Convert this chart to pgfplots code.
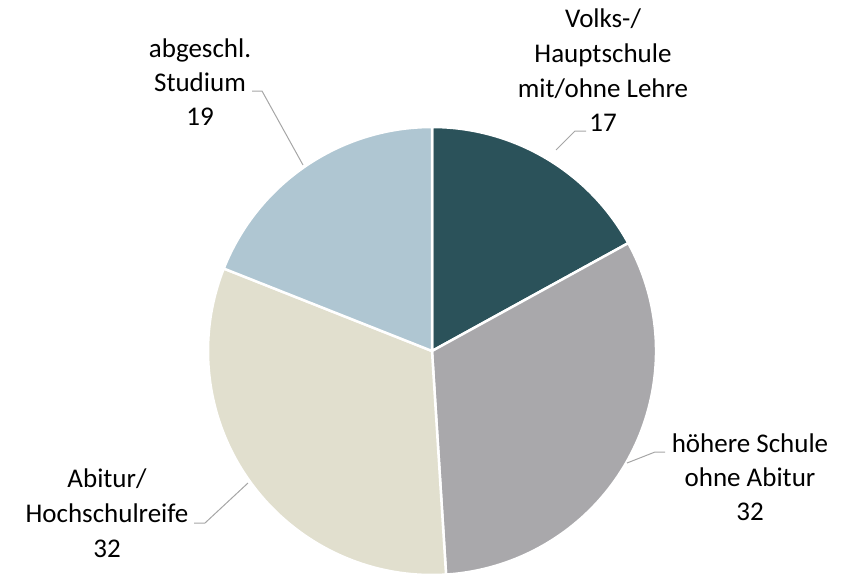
\documentclass[border=0pt]{standalone}
\usepackage{pgfplots}
\pgfplotsset{compat=1.18}
\usepackage{pgfplotstable}
\usepackage{fontspec}
\setmainfont{Carlito}

\definecolor{pie0}{HTML}{2B525A}
\definecolor{pie1}{HTML}{A9A8AB}
\definecolor{pie2}{HTML}{E1DFCE}
\definecolor{pie3}{HTML}{AFC6D2}
\definecolor{leader}{HTML}{A6A6A6}

\tikzset{lbl/.style={font=\fontsize{27}{34}\selectfont, anchor=base, inner sep=0pt}}

% shares in percent, clockwise from the top
\pgfplotstableread{
label value
Volks 17
hoehere 32
Abitur 32
Studium 19
}\piedata

% start/end angles of each wedge
\def\cum{0}
\pgfplotsforeachungrouped \i in {0,...,3}{%
  \pgfplotstablegetelem{\i}{value}\of\piedata
  \pgfmathsetmacro{\sA}{90-3.6*\cum}%
  \pgfmathsetmacro{\cum}{\cum+\pgfplotsretval}%
  \pgfmathsetmacro{\eA}{90-3.6*\cum}%
  \expandafter\xdef\csname pieS\i\endcsname{\sA}%
  \expandafter\xdef\csname pieE\i\endcsname{\eA}%
}

\begin{document}
\begin{tikzpicture}
\begin{axis}[
    scale only axis,
    width=850pt, height=576pt,
    xmin=0, xmax=850,
    ymin=0, ymax=576,
    y dir=reverse,
    hide axis,
    clip=false,
]
\path[draw=none] (rel axis cs:0,0) rectangle (rel axis cs:1,1);

\pgfplotsinvokeforeach{0,...,3}{
  \fill[fill=pie#1, draw=white, line width=2.5pt, line join=round]
    (axis cs:432,351) -- ++(\csname pieS#1\endcsname:224pt)
    arc[start angle=\csname pieS#1\endcsname, end angle=\csname pieE#1\endcsname, radius=224pt]
    -- cycle;
}

% leader lines
\draw[leader, line width=1pt] (axis cs:556,150) -- (axis cs:575,131) -- (axis cs:586,131);
\draw[leader, line width=1pt] (axis cs:627,463) -- (axis cs:655,452) -- (axis cs:665,452);
\draw[leader, line width=1pt] (axis cs:248,483) -- (axis cs:205,523) -- (axis cs:194,523);
\draw[leader, line width=1pt] (axis cs:303,165) -- (axis cs:262,91) -- (axis cs:252,91);

% labels
\node[lbl] at (axis cs:603,28) {Volks-/};
\node[lbl] at (axis cs:603,63) {Hauptschule};
\node[lbl] at (axis cs:603,97) {mit/ohne Lehre};
\node[lbl] at (axis cs:603,131) {17};

\node[lbl] at (axis cs:750,452) {höhere Schule};
\node[lbl] at (axis cs:750,486) {ohne Abitur};
\node[lbl] at (axis cs:750,520) {32};

\node[lbl] at (axis cs:107,487) {Abitur/};
\node[lbl] at (axis cs:107,522) {Hochschulreife};
\node[lbl] at (axis cs:107,557) {32};

\node[lbl] at (axis cs:200,57) {abgeschl.};
\node[lbl] at (axis cs:200,91) {Studium};
\node[lbl] at (axis cs:200,125) {19};
\end{axis}
\end{tikzpicture}
\end{document}
